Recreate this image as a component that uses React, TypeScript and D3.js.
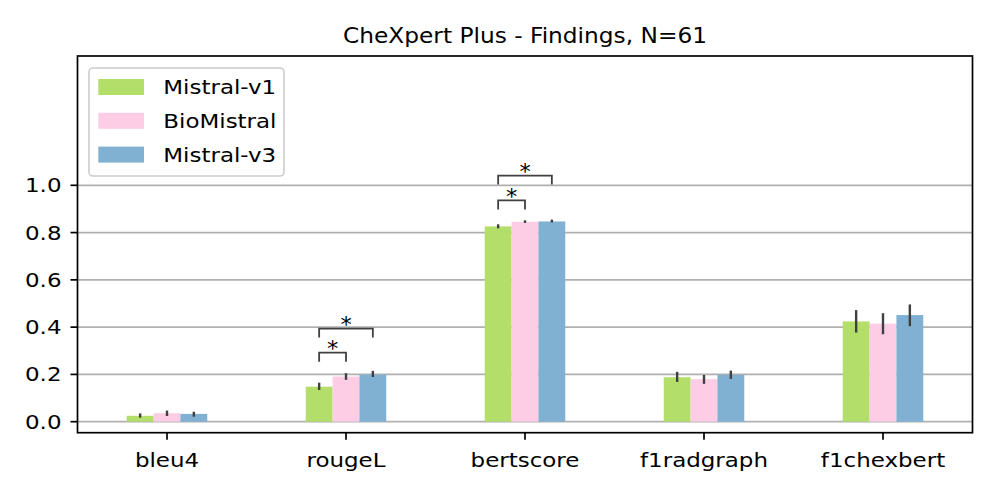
import React from 'react';
import * as d3 from 'd3';

const categories = ['bleu4', 'rougeL', 'bertscore', 'f1radgraph', 'f1chexbert'];
const models = ['Mistral-v1', 'BioMistral', 'Mistral-v3'];
const colors = ['#b3de69', '#fccde5', '#80b1d3'];

const mistralV1 = [0.025, 0.148, 0.826, 0.188, 0.424];
const bioMistral = [0.036, 0.191, 0.846, 0.180, 0.415];
const mistralV3 = [0.033, 0.199, 0.847, 0.198, 0.451];

const mistralV1Lo = [0.017, 0.134, 0.818, 0.168, 0.377];
const mistralV1Hi = [0.035, 0.165, 0.835, 0.211, 0.472];
const bioMistralLo = [0.024, 0.177, 0.841, 0.160, 0.370];
const bioMistralHi = [0.047, 0.205, 0.852, 0.198, 0.459];
const mistralV3Lo = [0.021, 0.189, 0.843, 0.181, 0.404];
const mistralV3Hi = [0.042, 0.215, 0.855, 0.216, 0.496];

// significance brackets: metric index, model from, model to, bracket level
const sigMetric = [1, 1, 2, 2];
const sigFrom = [0, 0, 0, 0];
const sigTo = [1, 2, 1, 2];
const sigLevel = [0.292, 0.394, 0.936, 1.041];

const yTicks = [0, 0.2, 0.4, 0.6, 0.8, 1.0];
const yTickLabels = ['0.0', '0.2', '0.4', '0.6', '0.8', '1.0'];

const title = 'CheXpert Plus - Findings, N=61';

const W = 997;
const H = 498;
const L = 77.5, R = 972.5, TOP = 56, BOT = 432.7;
const FONT = 'DejaVu Sans';
const FS = 19.3;
const SX = 1.19;

function Txt(props: { x: number; y: number; anchor?: string; fs?: number; sx?: number; children: any }) {
  const { x, y, anchor = 'start', fs = FS, sx = SX, children } = props;
  return (
    <text
      transform={`translate(${x},${y}) scale(${sx},1)`}
      textAnchor={anchor}
      fontSize={fs}
      fontFamily={FONT}
      fill="#000"
    >
      {children}
    </text>
  );
}

export default function App() {
  const x = d3.scaleLinear().domain([-0.5, 4.5]).range([L, R]);
  const y = d3.scaleLinear().domain([-0.0466, 1.547]).range([BOT, TOP]);
  const barW = 0.15;
  const values = [mistralV1, bioMistral, mistralV3];
  const lows = [mistralV1Lo, bioMistralLo, mistralV3Lo];
  const highs = [mistralV1Hi, bioMistralHi, mistralV3Hi];
  const centerOf = (i: number, k: number) => i + (k - 1) * barW;

  return (
    <svg width={W} height={H} style={{ position: 'absolute', left: 0, top: 0, background: '#fff' }}>
      <rect x={0} y={0} width={W} height={H} fill="#fff" />
      {/* grid */}
      {yTicks.map((t) => (
        <line key={'g' + t} x1={L} x2={R} y1={y(t)} y2={y(t)} stroke="#b0b0b0" strokeWidth={1.8} />
      ))}
      {/* bars */}
      {values.map((vals, k) =>
        vals.map((v, i) => {
          const cx = centerOf(i, k);
          const x0 = x(cx - barW / 2);
          const x1 = x(cx + barW / 2);
          return (
            <rect key={`b${k}-${i}`} x={x0} y={y(v)} width={x1 - x0} height={y(0) - y(v)} fill={colors[k]} />
          );
        })
      )}
      {/* error bars */}
      {values.map((vals, k) =>
        vals.map((v, i) => {
          const cx = x(centerOf(i, k));
          return (
            <line key={`e${k}-${i}`} x1={cx} x2={cx} y1={y(lows[k][i])} y2={y(highs[k][i])} stroke="#404040" strokeWidth={2.4} />
          );
        })
      )}
      {/* significance brackets */}
      {sigMetric.map((m, s) => {
        const xa = x(centerOf(m, sigFrom[s]));
        const xb = x(centerOf(m, sigTo[s]));
        const yl = y(sigLevel[s]);
        const yb = y(sigLevel[s] - 0.038);
        return (
          <g key={'s' + s}>
            <path d={`M${xa},${yb}V${yl}H${xb}V${yb}`} fill="none" stroke="#404040" strokeWidth={1.8} />
            <Txt x={(xa + xb) / 2} y={yl + 3.5} anchor="middle" fs={20.5} sx={1.1}>*</Txt>
          </g>
        );
      })}
      {/* spines */}
      <rect x={L} y={TOP} width={R - L} height={BOT - TOP} fill="none" stroke="#000" strokeWidth={1.7} />
      {/* y ticks */}
      {yTicks.map((t, i) => (
        <g key={'yt' + t}>
          <line x1={L - 7} x2={L} y1={y(t)} y2={y(t)} stroke="#000" strokeWidth={1.7} />
          <Txt x={L - 16} y={y(t) + 7} anchor="end">{yTickLabels[i]}</Txt>
        </g>
      ))}
      {/* x ticks */}
      {categories.map((c, i) => (
        <g key={'xt' + c}>
          <line x1={x(i)} x2={x(i)} y1={BOT} y2={BOT + 7} stroke="#000" strokeWidth={1.7} />
          <Txt x={x(i)} y={466.7} anchor="middle">{c}</Txt>
        </g>
      ))}
      {/* title */}
      <Txt x={(L + R) / 2} y={42.7} anchor="middle" fs={20.6} sx={1.13}>{title}</Txt>
      {/* legend */}
      <rect x={89} y={68} width={195} height={108} rx={4} fill="#fff" fillOpacity={0.8} stroke="#cccccc" strokeWidth={1.6} />
      {models.map((m, k) => {
        const cy = 87 + k * 33.8;
        return (
          <g key={'l' + m}>
            <rect x={98.3} y={cy - 8} width={45.7} height={16} fill={colors[k]} />
            <Txt x={163.3} y={cy + 7.2}>{m}</Txt>
          </g>
        );
      })}
    </svg>
  );
}
